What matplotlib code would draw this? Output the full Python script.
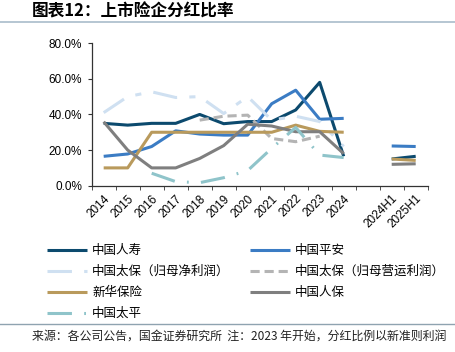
import matplotlib
matplotlib.use("Agg")
import matplotlib.pyplot as plt
import numpy as np
from matplotlib.lines import Line2D

plt.rcParams['font.family'] = ['Liberation Sans', 'Noto Sans CJK SC', 'DejaVu Sans']
plt.rcParams['axes.unicode_minus'] = False

nan = np.nan
categories = ['2014', '2015', '2016', '2017', '2018', '2019', '2020', '2021',
              '2022', '2023', '2024', '', '2024H1', '2025H1']

# dividend payout ratios (%)
china_life = [35.0, 34.0, 35.0, 35.0, 40.0, 34.8, 36.0, 36.0, 42.5, 58.0, 16.5, nan, 15.0, 16.5]
ping_an = [16.5, 17.8, 22.0, 30.8, 29.0, 28.4, 28.4, 46.0, 53.6, 37.3, 37.8, nan, 22.3, 22.0]
cpic_net = [41.0, 50.0, 52.7, 49.5, 50.0, 40.5, 50.0, 36.8, 39.0, 36.0, 22.0, nan, nan, nan]
cpic_oper = [nan, nan, nan, nan, 36.8, 39.0, 39.6, 26.5, 24.7, 27.8, nan, nan, nan, nan]
nci = [10.0, 10.0, 30.0, 30.0, 30.0, 30.0, 30.0, 30.0, 34.0, 30.5, 30.0, nan, 15.0, 14.2]
picc = [35.9, 20.0, 10.0, 10.0, 15.3, 22.5, 34.5, 33.5, 30.3, 30.3, 18.0, nan, 12.0, 12.3]
taiping = [nan, nan, 7.0, 2.3, 1.7, 4.5, 8.5, 21.0, 32.7, 17.2, 15.8, nan, nan, nan]

series = [
    ('中国人寿', china_life, '#0c4a6e', '-'),
    ('中国平安', ping_an, '#3b7cc4', '-'),
    ('中国太保（归母净利润）', cpic_net, '#cfe0f1', (0, (8, 4, 2, 4))),
    ('中国太保（归母营运利润）', cpic_oper, '#b4b4b4', (0, (3, 1.6))),
    ('新华保险', nci, '#b99a5c', '-'),
    ('中国人保', picc, '#7f7f7f', '-'),
    ('中国太平', taiping, '#8fc4ca', (0, (8, 4, 0.6, 4))),
]

fig = plt.figure(figsize=(4.55, 3.52), dpi=100)
ax = fig.add_axes([0.2015, 0.4724, 0.7385, 0.405])

x = np.arange(len(categories))
handles = []
for name, vals, color, ls in series:
    ln, = ax.plot(x, vals, color=color, lw=2.2, linestyle=ls, label=name,
                  solid_capstyle='butt', dash_capstyle='butt')
    handles.append(ln)

ax.set_xlim(-0.5, len(categories) - 0.5)
ax.set_ylim(0, 80)
ax.set_yticks([0, 20, 40, 60, 80])
ax.set_yticklabels(['0.0%', '20.0%', '40.0%', '60.0%', '80.0%'], fontsize=8.5)
ax.set_xticks(x)
ax.set_xticklabels(categories, rotation=45, ha='right', va='top',
                   rotation_mode='anchor', fontsize=8.5)
ax.set_xticks(np.arange(-0.5, len(categories)), minor=True)
ax.tick_params(axis='x', which='major', length=0, pad=5)
ax.tick_params(axis='x', which='minor', length=3, direction='out', color='#333333')
ax.tick_params(axis='y', length=3, direction='out', color='#333333', pad=4)
for s in ['top', 'right']:
    ax.spines[s].set_visible(False)
for s in ['left', 'bottom']:
    ax.spines[s].set_color('#333333')
    ax.spines[s].set_linewidth(0.9)

# legend: column-major order
order = [0, 2, 4, 6, 1, 3, 5]
leg = fig.legend([handles[i] for i in order], [series[i][0] for i in order],
                 loc='upper left', bbox_to_anchor=(47 / 455, 1 - 244 / 352),
                 ncol=2, frameon=False, handlelength=3.2,
                 handletextpad=0.4, columnspacing=1.6, labelspacing=0.64,
                 borderpad=0, borderaxespad=0,
                 prop={'family': ['Noto Sans CJK SC'], 'size': 9})

# title and separators
fig.text(32 / 455, 1 - 12 / 352, '图表12：上市险企分红比率', fontsize=12, fontweight='bold',
         family=['Noto Sans CJK SC'], style='italic', va='center', ha='left')
fig.add_artist(Line2D([0, 1], [1 - 21.5 / 352] * 2, color='#a9bccb', lw=1.2))
fig.add_artist(Line2D([0, 1], [1 - 324 / 352] * 2, color='#8fa3b0', lw=1.0))
fig.text(32 / 455, 1 - 336 / 352,
         '来源：各公司公告，国金证券研究所  注：2023 年开始，分红比例以新准则利润',
         fontsize=8.6, family=['Noto Sans CJK SC'], va='center', ha='left', color='#222222')

fig.savefig('out.png', dpi=100)
